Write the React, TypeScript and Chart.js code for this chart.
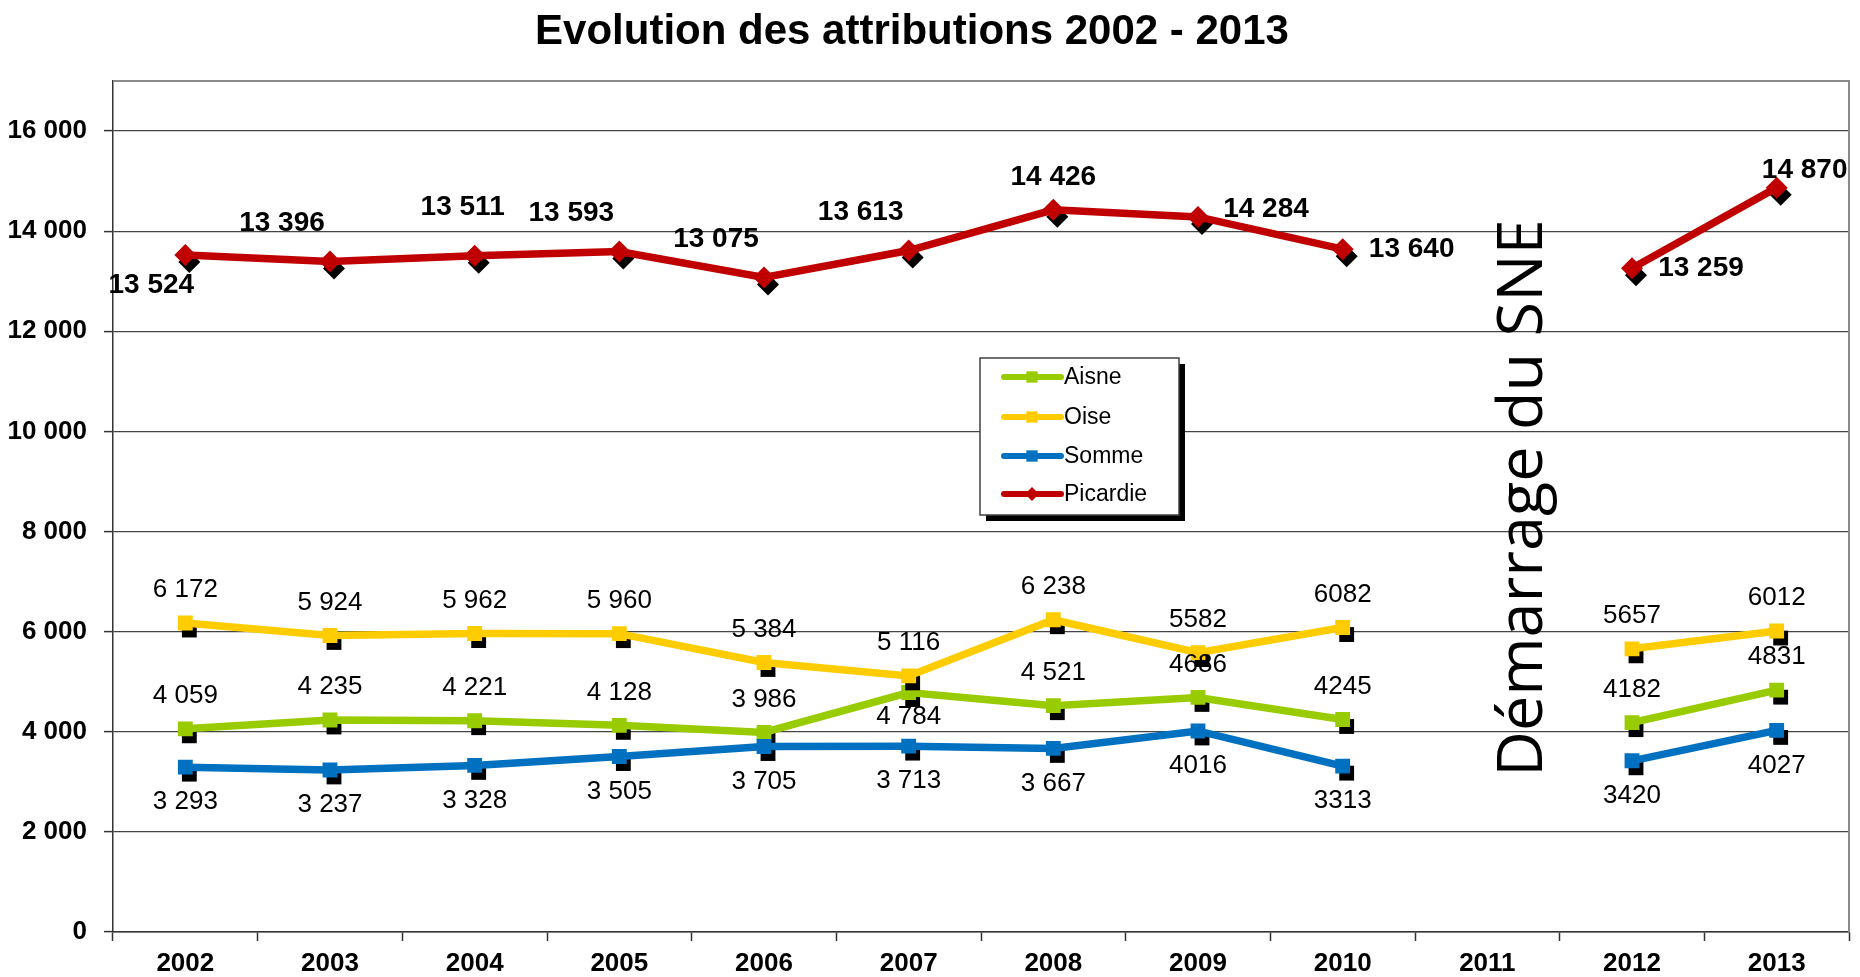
import React, { useEffect, useRef } from 'react';
import { Chart, registerables } from 'chart.js';

Chart.register(...registerables);

// ---------- data ----------
const TITLE = 'Evolution des attributions 2002 - 2013';
const ANNOTATION = 'Démarrage du SNE';
const YEARS = ['2002', '2003', '2004', '2005', '2006', '2007', '2008', '2009', '2010', '2011', '2012', '2013'];

const AISNE = [4059, 4235, 4221, 4128, 3986, 4784, 4521, 4686, 4245, null, 4182, 4831];
const OISE = [6172, 5924, 5962, 5960, 5384, 5116, 6238, 5582, 6082, null, 5657, 6012];
const SOMME = [3293, 3237, 3328, 3505, 3705, 3713, 3667, 4016, 3313, null, 3420, 4027];
const PICARDIE = [13524, 13396, 13511, 13593, 13075, 13613, 14426, 14284, 13640, null, 13259, 14870];

const AISNE_LABELS = ['4 059', '4 235', '4 221', '4 128', '3 986', '4 784', '4 521', '4686', '4245', '', '4182', '4831'];
const OISE_LABELS = ['6 172', '5 924', '5 962', '5 960', '5 384', '5 116', '6 238', '5582', '6082', '', '5657', '6012'];
const SOMME_LABELS = ['3 293', '3 237', '3 328', '3 505', '3 705', '3 713', '3 667', '4016', '3313', '', '3420', '4027'];
const PICARDIE_LABELS = ['13 524', '13 396', '13 511', '13 593', '13 075', '13 613', '14 426', '14 284', '13 640', '', '13 259', '14 870'];

// label placement keywords (mapped to offsets in the plugin)
const AISNE_POS = ['above', 'above', 'above', 'above', 'above', 'belowNear', 'above', 'above', 'above', '', 'above', 'above'];
const OISE_POS = ['above', 'above', 'above', 'above', 'above', 'above', 'above', 'above', 'above', '', 'above', 'above'];
const SOMME_POS = ['below', 'below', 'below', 'below', 'below', 'below', 'below', 'below', 'below', '', 'below', 'below'];
const PICARDIE_POS = ['leftBelow', 'leftAbove', 'upLeft', 'leftAbove', 'leftAbove', 'leftAbove', 'above', 'rightUp', 'right', '', 'right', 'upRight'];

const Y_TICKS = [0, 2000, 4000, 6000, 8000, 10000, 12000, 14000, 16000];
const Y_TICK_LABELS = ['0', '2 000', '4 000', '6 000', '8 000', '10 000', '12 000', '14 000', '16 000'];
const Y_MAX = 17000;

// ---------- styles ----------
const FONT = '"Liberation Sans", Arial, Helvetica, sans-serif';
const OFFSETS: Record<string, [number, number]> = {
  above: [0, -33],
  below: [0, 35],
  belowNear: [0, 24],
  leftBelow: [-34, 30],
  leftAbove: [-48, -38],
  upLeft: [-12, -48],
  rightUp: [68, -8],
  right: [69, 0],
  upRight: [28, -17],
};

function shapePath(ctx: CanvasRenderingContext2D, style: string, x: number, y: number, r: number) {
  ctx.beginPath();
  if (style === 'rectRot') {
    ctx.moveTo(x - r, y);
    ctx.lineTo(x, y - r);
    ctx.lineTo(x + r, y);
    ctx.lineTo(x, y + r);
    ctx.closePath();
  } else {
    const s = Math.SQRT1_2 * r;
    ctx.rect(x - s, y - s, 2 * s, 2 * s);
  }
}

const customPlugin = {
  id: 'custom',
  beforeDatasetsDraw(chart: any) {
    const { ctx, chartArea, scales } = chart;
    // top & right border of plot area
    ctx.save();
    ctx.strokeStyle = '#8a8a8a';
    ctx.lineWidth = 2;
    ctx.beginPath();
    ctx.moveTo(chartArea.left, chartArea.top);
    ctx.lineTo(chartArea.right, chartArea.top);
    ctx.lineTo(chartArea.right, chartArea.bottom);
    ctx.stroke();
    // rotated annotation
    const x = scales.x.getPixelForValue(9) + 55;
    const y = scales.y.getPixelForValue(3100);
    ctx.translate(x, y);
    ctx.rotate(-Math.PI / 2);
    ctx.font = '63px "Open Sans", "Noto Sans", sans-serif';
    ctx.fillStyle = '#000';
    ctx.textAlign = 'left';
    ctx.textBaseline = 'alphabetic';
    ctx.fillText(ANNOTATION, 0, 0);
    ctx.restore();
  },
  beforeDatasetDraw(chart: any, args: any) {
    const { ctx } = chart;
    const ds = chart.data.datasets[args.index];
    ctx.save();
    ctx.fillStyle = '#000';
    args.meta.data.forEach((pt: any, i: number) => {
      if (ds.data[i] == null) return;
      shapePath(ctx, ds.pointStyle, pt.x + 4, pt.y + 7, ds.pointRadius);
      ctx.fill();
    });
    ctx.restore();
  },
  afterDatasetsDraw(chart: any) {
    const { ctx } = chart;
    ctx.save();
    ctx.fillStyle = '#000';
    ctx.textAlign = 'center';
    ctx.textBaseline = 'middle';
    chart.data.datasets.forEach((ds: any, di: number) => {
      const meta = chart.getDatasetMeta(di);
      ctx.font = (ds.labelBold ? 'bold 28px ' : '26px ') + FONT;
      meta.data.forEach((pt: any, i: number) => {
        if (ds.data[i] == null) return;
        const off = OFFSETS[ds.labelPos[i]] || [0, -33];
        ctx.fillText(ds.labelTexts[i], pt.x + off[0], pt.y + off[1]);
      });
    });
    ctx.restore();
  },
  afterDraw(chart: any) {
    const { ctx } = chart;
    ctx.save();
    // title
    ctx.fillStyle = '#000';
    ctx.font = 'bold 42px ' + FONT;
    ctx.textAlign = 'center';
    ctx.textBaseline = 'middle';
    ctx.fillText(TITLE, 912, 32);
    // legend
    const bx = 980, by = 358, bw = 199, bh = 157;
    ctx.fillStyle = '#000';
    ctx.fillRect(bx + 6, by + 6, bw, bh);
    ctx.fillStyle = '#fff';
    ctx.fillRect(bx, by, bw, bh);
    ctx.strokeStyle = '#404040';
    ctx.lineWidth = 1.5;
    ctx.strokeRect(bx, by, bw, bh);
    const rows = [377, 417, 456, 494];
    chart.data.datasets.forEach((ds: any, i: number) => {
      const yy = rows[i];
      ctx.strokeStyle = ds.borderColor;
      ctx.lineWidth = 6;
      ctx.lineCap = 'round';
      ctx.beginPath();
      ctx.moveTo(1004, yy);
      ctx.lineTo(1061, yy);
      ctx.stroke();
      ctx.fillStyle = ds.borderColor;
      shapePath(ctx, ds.pointStyle, 1032, yy, ds.pointStyle === 'rectRot' ? 7 : 8);
      ctx.fill();
      ctx.fillStyle = '#000';
      ctx.font = '23px ' + FONT;
      ctx.textAlign = 'left';
      ctx.textBaseline = 'middle';
      ctx.fillText(ds.label, 1064, yy + 1);
    });
    ctx.restore();
  },
};

function makeDataset(label: string, data: (number | null)[], color: string, style: string, radius: number, texts: string[], pos: string[], bold: boolean, order: number) {
  return {
    label,
    data,
    borderColor: color,
    backgroundColor: color,
    borderWidth: 7.5,
    pointStyle: style,
    pointRadius: radius,
    pointHoverRadius: radius,
    pointBorderWidth: 0,
    pointBackgroundColor: color,
    tension: 0,
    spanGaps: false,
    labelTexts: texts,
    labelPos: pos,
    labelBold: bold,
    order,
  } as any;
}

export default function App() {
  const ref = useRef<HTMLCanvasElement>(null);
  useEffect(() => {
    if (!ref.current) return;
    Chart.defaults.font.family = FONT;
    const chart = new Chart(ref.current, {
      type: 'line',
      data: {
        labels: YEARS,
        datasets: [
          makeDataset('Aisne', AISNE, '#99CC00', 'rect', 10.5, AISNE_LABELS, AISNE_POS, false, 3),
          makeDataset('Oise', OISE, '#FFCC00', 'rect', 10.5, OISE_LABELS, OISE_POS, false, 2),
          makeDataset('Somme', SOMME, '#0070C0', 'rect', 10.5, SOMME_LABELS, SOMME_POS, false, 1),
          makeDataset('Picardie', PICARDIE, '#C00000', 'rectRot', 11, PICARDIE_LABELS, PICARDIE_POS, true, 0),
        ],
      },
      options: {
        responsive: true,
        maintainAspectRatio: false,
        animation: false,
        layout: { padding: { left: 8, right: 4, top: 81, bottom: 0 } },
        plugins: {
          legend: { display: false },
          title: { display: false },
          tooltip: { enabled: false },
        },
        scales: {
          x: {
            offset: true,
            grid: {
              offset: true,
              drawOnChartArea: false,
              drawTicks: true,
              tickLength: 9,
              tickColor: '#333',
              tickWidth: 1.5,
            },
            border: { display: true, color: '#333', width: 1.5 },
            ticks: {
              color: '#000',
              padding: 7,
              font: { size: 26, weight: 'bold', family: FONT },
              maxRotation: 0,
              autoSkip: false,
            },
            afterFit: (s: any) => { s.height = 45; },
          },
          y: {
            min: 0,
            max: Y_MAX,
            afterBuildTicks: (s: any) => { s.ticks = Y_TICKS.map((v) => ({ value: v })); },
            ticks: {
              autoSkip: false,
              color: '#000',
              padding: 17,
              font: { size: 26, weight: 'bold', family: FONT },
              callback: (v: any) => {
                const i = Y_TICKS.indexOf(Number(v));
                return i >= 0 ? Y_TICK_LABELS[i] : '';
              },
            },
            grid: {
              color: '#444',
              tickColor: '#333',
              lineWidth: 1.2,
              tickLength: 9,
              tickWidth: 1.5,
            },
            border: { display: true, color: '#333', width: 1.5 },
            afterFit: (s: any) => { s.width = 105; },
          },
        },
      },
      plugins: [customPlugin],
    });
    return () => chart.destroy();
  }, []);

  return (
    <div style={{ position: 'absolute', left: 0, top: 0, width: 1860, height: 977, background: '#fff' }}>
      <canvas ref={ref} />
    </div>
  );
}
